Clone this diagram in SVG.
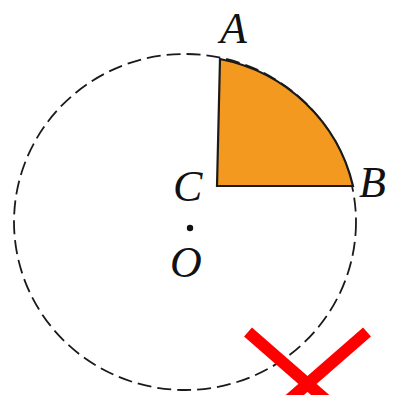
<svg xmlns="http://www.w3.org/2000/svg" width="393" height="395" viewBox="0 0 393 395">
<style>
.lbl{font-family:"Liberation Serif","Times New Roman",serif;font-style:italic;font-size:44px;fill:#111}
</style>
<rect width="393" height="395" fill="#fff"/>
<g id="circle">
<ellipse cx="185" cy="222" rx="171" ry="168" fill="none" stroke="#1a1a1a" stroke-width="1.8" stroke-dasharray="14 6"/>
</g>
<g id="sector">
<path d="M217,186 L220,59 A171,168 0 0 1 353,186 Z" fill="#F4991F" stroke="#1a1a1a" stroke-width="2.2" stroke-linejoin="miter"/>
</g>
<g id="point-O">
<circle cx="190" cy="228" r="3.2" fill="#111"/>
</g>
<g id="labels">
<text class="lbl" x="220" y="43">A</text>
<text class="lbl" x="359" y="197">B</text>
<text class="lbl" x="173" y="201">C</text>
<text class="lbl" x="170" y="277">O</text>
</g>
<g id="cross">
<line x1="248" y1="332" x2="350" y2="421" stroke="#FF0000" stroke-width="12"/>
<line x1="367" y1="332" x2="265" y2="421" stroke="#FF0000" stroke-width="12"/>
</g>
</svg>
